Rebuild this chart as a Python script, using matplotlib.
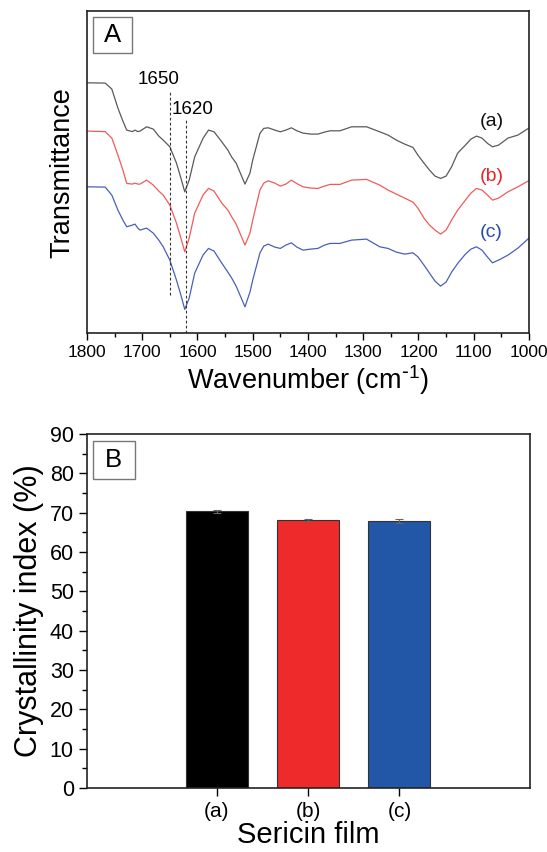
import matplotlib
matplotlib.use("Agg")
import matplotlib.pyplot as plt
from matplotlib.patches import Rectangle
from matplotlib.ticker import MultipleLocator

plt.rcParams['font.family'] = ['Liberation Sans', 'DejaVu Sans']
plt.rcParams['mathtext.default'] = 'regular'

# FTIR spectra (arbitrary transmittance units, offset per sample)
wavenumber = [1800, 1767, 1755, 1744, 1735, 1728, 1718, 1713, 1708, 1704, 1692, 1680,
              1670, 1662, 1650, 1638, 1630, 1623, 1615, 1605, 1590, 1580, 1570, 1556,
              1545, 1538, 1530, 1514, 1505, 1500, 1487, 1480, 1472, 1460, 1450, 1440,
              1430, 1420, 1409, 1395, 1382, 1370, 1360, 1342, 1321, 1294, 1270, 1255,
              1240, 1225, 1210, 1201, 1190, 1180, 1170, 1160, 1150, 1140, 1129, 1115,
              1105, 1095, 1085, 1075, 1066, 1055, 1038, 1020, 1004, 1000]
trans_a = [250.3, 250, 244, 225, 212, 203, 201.5, 203, 201.5, 202, 206.3, 204,
           197, 193, 186.3, 170, 155, 141.3, 153, 176.3, 194.7, 203, 201.3, 191.3,
           183, 176, 170, 149, 160, 173, 199.7, 204.7, 205.3, 203, 201.3, 203,
           205.3, 202.3, 200, 199, 199, 201, 202.3, 202.3, 206.3, 206.3, 201.3, 198,
           193, 189, 185.7, 178, 170, 163, 157, 154.7, 157, 166.3, 180, 188,
           194, 197, 195, 189.7, 186.3, 188, 195, 198, 203.7, 205]
trans_b = [202, 201.5, 195, 178, 163, 149.7, 149, 150, 149, 149, 153, 148,
           142, 138, 128, 110, 95, 81.3, 95, 120, 138, 144.7, 142, 130,
           123, 116.3, 109, 88, 100, 113, 143, 150, 152.3, 150, 147, 149,
           153, 149.5, 146.3, 145, 144.7, 147, 148.7, 148.7, 153, 153.7, 148, 143,
           139, 135, 131, 125, 115, 108, 103, 99, 103, 113, 123, 133,
           140, 144.7, 143, 138, 133, 135, 141.3, 146.3, 151.3, 152.5]
trans_c = [146.3, 146, 138, 123, 113, 106.3, 108, 109, 105, 103, 105, 100,
           93, 86.3, 73, 53, 38, 23.7, 35, 60, 78, 84.7, 82, 70,
           61, 55, 47, 26.3, 41, 53, 80, 87, 89, 86, 84.7, 88,
           90.3, 86, 83, 84, 84.7, 88, 89.7, 89.7, 93, 94, 86.3, 84.7,
           81, 79, 80.3, 76.3, 68, 60, 52, 47, 51, 61, 69.7, 79,
           84, 86.3, 83, 76, 70.3, 73, 78, 85, 93, 95]

# crystallinity index bars
films = ['(a)', '(b)', '(c)']
crystallinity = [70.3, 68.1, 68.0]
cryst_err = [0.5, 0.2, 0.5]

fig = plt.figure(figsize=(5.47, 8.52), dpi=100)
ax1 = fig.add_axes([0.159, 0.609, 0.808, 0.378])
ax2 = fig.add_axes([0.159, 0.0751, 0.81, 0.4155])

# --- panel A ---
ax1.plot(wavenumber, trans_a, color='#5a5a5a', lw=0.9)
ax1.plot(wavenumber, trans_b, color='#f25a5a', lw=0.9)
ax1.plot(wavenumber, trans_c, color='#4a60b8', lw=0.9)
ax1.plot([1650, 1650], [38, 243], color='#333333', lw=0.8, ls=(0, (2.5, 2)))
ax1.plot([1620, 1620], [0, 215], color='#333333', lw=0.8, ls=(0, (2.5, 2)))
ax1.text(1671, 253.5, '1650', fontsize=13.5, ha='center', va='center')
ax1.text(1609, 224, '1620', fontsize=13.5, ha='center', va='center')
ax1.text(1068, 211.3, '(a)', fontsize=14, ha='center', va='center', color='#111111')
ax1.text(1068, 156.3, '(b)', fontsize=14, ha='center', va='center', color='#e8252a')
ax1.text(1068, 100.3, '(c)', fontsize=14, ha='center', va='center', color='#2a4fa0')

ax1.set_xlim(1800, 1000)
ax1.set_ylim(0, 322)
ax1.set_yticks([])
ax1.xaxis.set_major_locator(MultipleLocator(100))
ax1.xaxis.set_minor_locator(MultipleLocator(50))
ax1.tick_params(axis='x', which='major', direction='out', length=5, width=1, labelsize=12.5)
ax1.tick_params(axis='x', which='minor', direction='out', length=3, width=1)
ax1.set_xlabel(r'Wavenumber (cm$^{\text{-}1}$)', fontsize=19.5, labelpad=2)
ax1.set_ylabel('Transmittance', fontsize=19.5, labelpad=8)
ax1.add_patch(Rectangle((0.013, 0.870), 0.088, 0.112, transform=ax1.transAxes,
                        facecolor='white', edgecolor='#777777', lw=1))
ax1.text(0.057, 0.926, 'A', transform=ax1.transAxes, fontsize=18.5, ha='center', va='center')

# --- panel B ---
bar_colors = ['#000000', '#ee2a2a', '#2256a6']
pos = [1, 2, 3]
ax2.bar(pos, crystallinity, width=0.68, color=bar_colors, edgecolor='#333333', lw=0.8,
        yerr=cryst_err, error_kw=dict(ecolor='#666666', elinewidth=0.8, capsize=3, capthick=0.8))
ax2.set_xlim(-0.42, 4.43)
ax2.set_ylim(0, 90)
ax2.set_xticks(pos)
ax2.set_xticklabels(films)
ax2.yaxis.set_major_locator(MultipleLocator(10))
ax2.yaxis.set_minor_locator(MultipleLocator(5))
ax2.tick_params(axis='both', which='major', direction='out', length=6, width=1)
ax2.tick_params(axis='y', which='minor', direction='out', length=3.5, width=1)
ax2.tick_params(axis='y', labelsize=15.5)
ax2.tick_params(axis='x', labelsize=15, pad=4)
ax2.set_xlabel('Sericin film', fontsize=21, labelpad=0)
ax2.set_ylabel('Crystallinity index (%)', fontsize=22, labelpad=4)
ax2.add_patch(Rectangle((0.0129, 0.872), 0.0955, 0.109, transform=ax2.transAxes,
                        facecolor='white', edgecolor='#777777', lw=1))
ax2.text(0.0606, 0.9265, 'B', transform=ax2.transAxes, fontsize=18.5, ha='center', va='center')

for ax in (ax1, ax2):
    for s in ax.spines.values():
        s.set_color('#222222')
        s.set_linewidth(1.2)

fig.savefig('out.png', dpi=100)
